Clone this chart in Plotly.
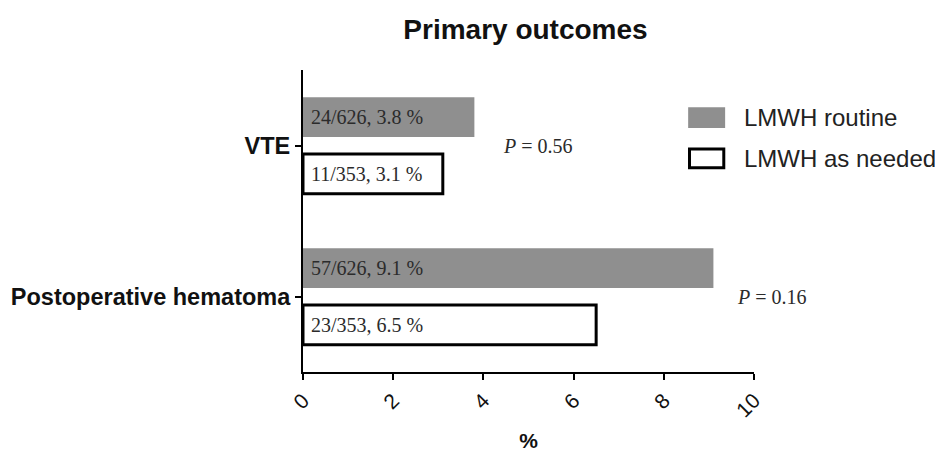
import plotly.graph_objects as go

categories = ["VTE", "Postoperative hematoma"]
routine_pct = [3.8, 9.1]
routine_text = ["24/626, 3.8 %", "57/626, 9.1 %"]
needed_pct = [3.1, 6.5]
needed_text = ["11/353, 3.1 %", "23/353, 6.5 %"]
p_values = ["0.56", "0.16"]
p_xpaper = [0.521, 1.04]
series_names = ["LMWH routine", "LMWH as needed"]
x_ticks = [0, 2, 4, 6, 8, 10]

GRAY = "#8f8f8f"
TXT = "#2b2b2b"

fig = go.Figure()
fig.add_trace(go.Bar(
    y=categories, x=routine_pct, orientation="h", name=series_names[0],
    marker=dict(color=GRAY, line=dict(width=0)),
    text=routine_text, texttemplate="\u00a0%{text}", textposition="inside",
    insidetextanchor="start", textangle=0,
    textfont=dict(family="Liberation Serif", size=20, color=TXT),
    showlegend=False,
))
fig.add_trace(go.Bar(
    y=categories, x=needed_pct, orientation="h", name=series_names[1],
    marker=dict(color="white", line=dict(color="black", width=3)),
    text=needed_text, texttemplate="\u00a0%{text}", textposition="inside",
    insidetextanchor="start", textangle=0,
    textfont=dict(family="Liberation Serif", size=20, color=TXT),
    showlegend=False,
))

for cat, pv, px in zip(categories, p_values, p_xpaper):
    fig.add_annotation(xref="paper", x=px, yref="y", y=cat, text="<i>P</i> = " + pv,
                       showarrow=False, xanchor="center", yanchor="middle",
                       font=dict(family="Liberation Serif", size=20, color=TXT))

# custom legend (large swatches like the reference)
fig.add_shape(type="rect", xref="paper", yref="paper", x0=0.854, x1=0.936,
              y0=0.808, y1=0.877, fillcolor=GRAY, line=dict(width=0))
fig.add_shape(type="rect", xref="paper", yref="paper", x0=0.857, x1=0.933,
              y0=0.676, y1=0.738, fillcolor="white", line=dict(color="black", width=3))
fig.add_annotation(xref="paper", yref="paper", x=0.973, y=0.843, text=series_names[0],
                   showarrow=False, xanchor="left", yanchor="middle",
                   font=dict(family="Liberation Sans", size=24, color="#222"))
fig.add_annotation(xref="paper", yref="paper", x=0.973, y=0.707, text=series_names[1],
                   showarrow=False, xanchor="left", yanchor="middle",
                   font=dict(family="Liberation Sans", size=24, color="#222"))

# page body has an 8px margin; figure is sized/margined to compensate
fig.update_layout(
    width=935, height=444,
    margin=dict(l=295, r=189, t=62, b=80, autoexpand=False),
    paper_bgcolor="white", plot_bgcolor="white",
    barmode="group", bargap=0.25, bargroupgap=0.3,
    title=dict(text="<b>Primary outcomes</b>", x=0.5535, xanchor="center",
               y=1 - 21 / 444, yanchor="middle",
               font=dict(family="Liberation Sans", size=28, color="#111")),
    xaxis=dict(range=[0, 10], tickvals=x_ticks, ticktext=[str(t) for t in x_ticks],
               tickangle=-45, showline=True, linecolor="black", linewidth=2,
               ticks="outside", ticklen=6, tickwidth=2, tickcolor="black",
               showgrid=False, zeroline=False,
               tickfont=dict(family="Liberation Sans", size=21, color="#111"),
               title=dict(text="<b>%</b>", standoff=14,
                          font=dict(family="Liberation Sans", size=21, color="#111"))),
    yaxis=dict(range=[1.5, -0.5], type="category", categoryarray=categories,
               showline=True, linecolor="black", linewidth=2,
               ticks="outside", ticklen=6, tickwidth=2, tickcolor="black",
               showgrid=False, zeroline=False,
               tickfont=dict(family="Liberation Sans", size=23.5, color="#111"),
               ticktext=["<b>" + c + "</b>" for c in categories], tickvals=categories),
)

fig.write_html("out.html")
